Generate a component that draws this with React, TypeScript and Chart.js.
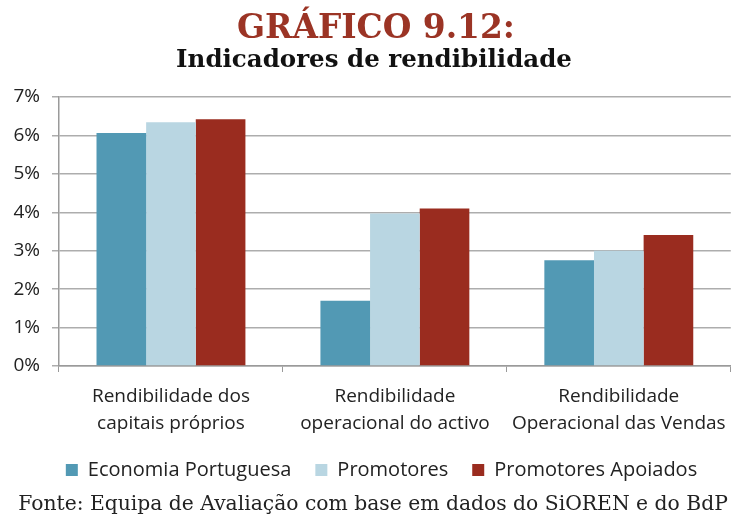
import React, { useEffect, useRef } from "react";
import { Chart, registerables } from "chart.js";

Chart.register(...registerables);

const categories: string[][] = [
  ["Rendibilidade dos", "capitais próprios"],
  ["Rendibilidade", "operacional do activo"],
  ["Rendibilidade", "Operacional das Vendas"],
];
const economiaPortuguesa = [6.06, 1.7, 2.75];
const promotores = [6.34, 3.97, 3.0];
const promotoresApoiados = [6.42, 4.1, 3.41];
const seriesNames = ["Economia Portuguesa", "Promotores", "Promotores Apoiados"];
const titleText = "GRÁFICO 9.12:";
const subtitleText = "Indicadores de rendibilidade";
const sourceText = "Fonte: Equipa de Avaliação com base em dados do SiOREN e do BdP";

const SANS = "'Open Sans', 'Noto Sans', sans-serif";
const SERIF = "'DejaVu Serif', 'Liberation Serif', serif";

function fitFont(ctx: CanvasRenderingContext2D, text: string, weight: string, family: string, target: number) {
  let size = 30;
  ctx.font = `${weight} ${size}px ${family}`;
  const w = ctx.measureText(text).width;
  size = (size * target) / w;
  return `${weight} ${size.toFixed(2)}px ${family}`;
}

const textPlugin = {
  id: "texts",
  afterLayout(chart: any) {
    // centre the legend row on the plot area rather than the full canvas
    if (chart.legend) {
      const shift = 14;
      chart.legend.left += shift;
      chart.legend.right += shift;
    }
  },
  afterDraw(chart: any) {
    const ctx = chart.ctx as CanvasRenderingContext2D;
    ctx.save();
    ctx.textAlign = "center";
    ctx.textBaseline = "alphabetic";
    ctx.fillStyle = "#9B3425";
    ctx.font = fitFont(ctx, titleText, "bold", SERIF, 278);
    ctx.fillText(titleText, 376, 38);
    ctx.fillStyle = "#111111";
    ctx.font = fitFont(ctx, subtitleText, "bold", SERIF, 396);
    ctx.fillText(subtitleText, 374, 67);
    ctx.fillStyle = "#222222";
    ctx.font = fitFont(ctx, sourceText, "normal", SERIF, 710);
    ctx.fillText(sourceText, 373, 510);
    ctx.restore();
  },
};

export default function App() {
  const ref = useRef<HTMLCanvasElement>(null);
  useEffect(() => {
    if (!ref.current) return;
    const chart = new Chart(ref.current, {
      type: "bar",
      data: {
        labels: categories,
        datasets: [
          { label: seriesNames[0], data: economiaPortuguesa, backgroundColor: "#5299B4", borderColor: "#5299B4" },
          { label: seriesNames[1], data: promotores, backgroundColor: "#B9D6E2", borderColor: "#B9D6E2" },
          { label: seriesNames[2], data: promotoresApoiados, backgroundColor: "#9A2C1F", borderColor: "#9A2C1F" },
        ],
      },
      options: {
        animation: false,
        responsive: false,
        layout: { padding: { top: 97, right: 2, bottom: 25, left: 0 } },
        datasets: { bar: { categoryPercentage: 0.665, barPercentage: 1 } },
        plugins: {
          title: { display: false },
          tooltip: { enabled: false },
          legend: {
            position: "bottom",
            labels: {
              boxWidth: 12,
              boxHeight: 12,
              padding: 24,
              color: "#222",
              font: { family: SANS, size: 20 },
            },
          },
        },
        scales: {
          x: {
            grid: { display: true, drawOnChartArea: false, offset: true, tickLength: 6, color: "#9a9a9a" },
            border: { color: "#9a9a9a", width: 1.5 },
            ticks: { color: "#222", font: { family: SANS, size: 19, lineHeight: 1.42 }, padding: 11, maxRotation: 0 },
            afterFit(scale: any) { scale.height = 70; },
          },
          y: {
            min: 0,
            max: 7,
            ticks: {
              stepSize: 1,
              color: "#222",
              font: { family: SANS, size: 19 },
              padding: 12,
              callback: (v: any) => `${v}%`,
            },
            grid: { color: "#adadad", lineWidth: 1.5, tickLength: 7 },
            border: { color: "#9a9a9a", width: 1.5 },
            afterFit(scale: any) { scale.width = 59; },
          },
        },
      },
      plugins: [textPlugin],
    });
    return () => chart.destroy();
  }, []);
  return (
    <div style={{ position: "fixed", left: 0, top: 0, width: 737, height: 515, background: "#fff" }}>
      <canvas ref={ref} width={737} height={515} style={{ display: "block" }} />
    </div>
  );
}
